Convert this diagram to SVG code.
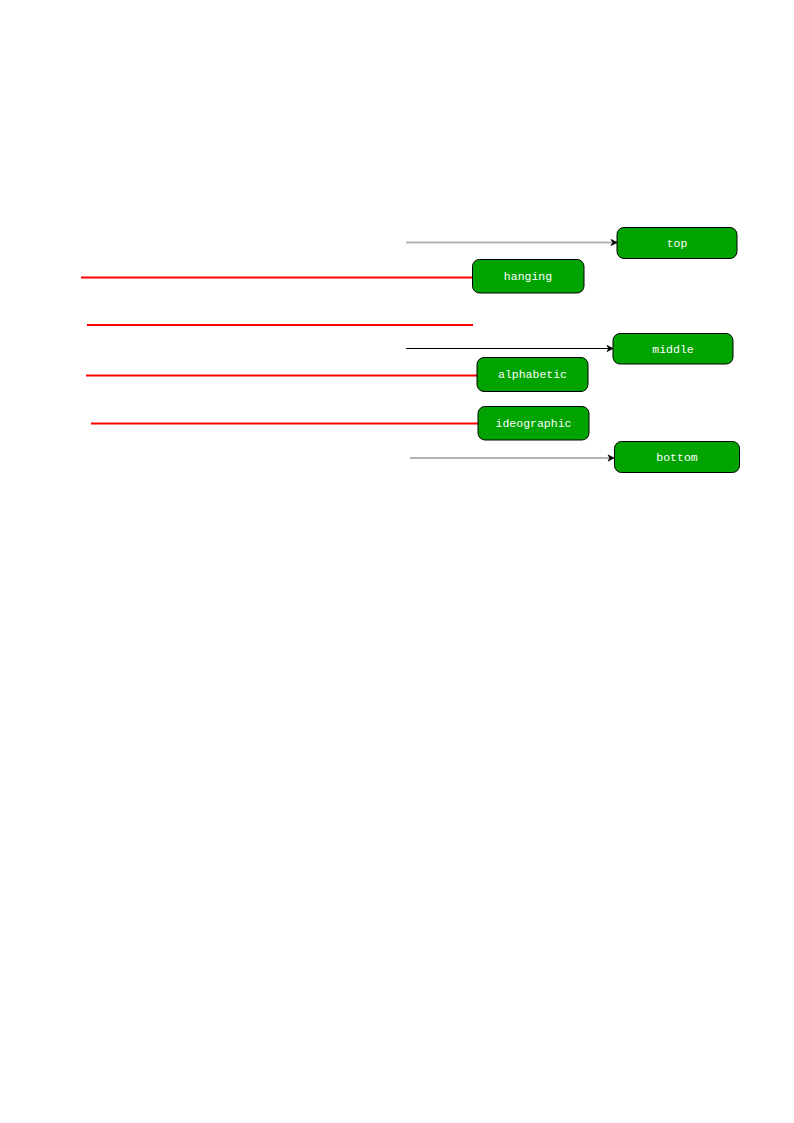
<svg xmlns="http://www.w3.org/2000/svg" width="794" height="1123" viewBox="0 0 794 1123">
<style>
.node rect{fill:#00a300;stroke:#000;stroke-width:1}
.node text{fill:#fff;font-family:"Liberation Mono","DejaVu Sans Mono",monospace;font-size:11.5px;text-anchor:middle;dominant-baseline:central}
.red{stroke:#ff0000;stroke-width:2;fill:none}
.gray{stroke:#b3b3b3;stroke-width:2;fill:none}
.blk{stroke:#000;stroke-width:1;fill:none}
</style>
<defs>
<marker id="arr" markerWidth="8" markerHeight="8" refX="7" refY="4" orient="auto" markerUnits="userSpaceOnUse">
<path d="M1,1 L7,4 L1,7 L3,4 Z" fill="#000" stroke="#000" stroke-width="0.8"/>
</marker>
</defs>
<rect width="794" height="1123" fill="#fff"/>
<g id="connectors">
<line class="gray" x1="406" y1="242.5" x2="617" y2="242.5" marker-end="url(#arr)"/>
<line class="red" x1="81" y1="277.5" x2="472" y2="277.5"/>
<line class="red" x1="87" y1="325" x2="473" y2="325" stroke-width="1.5"/>
<line class="blk" x1="406" y1="348.5" x2="613" y2="348.5" marker-end="url(#arr)"/>
<line class="red" x1="86" y1="375.5" x2="477" y2="375.5"/>
<line class="red" x1="91" y1="423.5" x2="478" y2="423.5"/>
<line class="gray" x1="410" y1="458" x2="614" y2="458" marker-end="url(#arr)"/>
</g>
<g id="top" class="node"><rect x="617" y="227.5" width="120" height="31" rx="7"/><text x="677" y="243">top</text></g>
<g id="hanging" class="node"><rect x="472.5" y="259.5" width="111.5" height="33.5" rx="7"/><text x="528" y="276">hanging</text></g>
<g id="middle" class="node"><rect x="613" y="333.5" width="120" height="30.5" rx="7"/><text x="673" y="349">middle</text></g>
<g id="alphabetic" class="node"><rect x="477" y="357.5" width="111" height="34" rx="7"/><text x="532.5" y="374">alphabetic</text></g>
<g id="ideographic" class="node"><rect x="478" y="406.5" width="111" height="33.5" rx="7"/><text x="533.5" y="423">ideographic</text></g>
<g id="bottom" class="node"><rect x="614.5" y="441.5" width="125" height="31" rx="7"/><text x="677" y="457">bottom</text></g>
</svg>
